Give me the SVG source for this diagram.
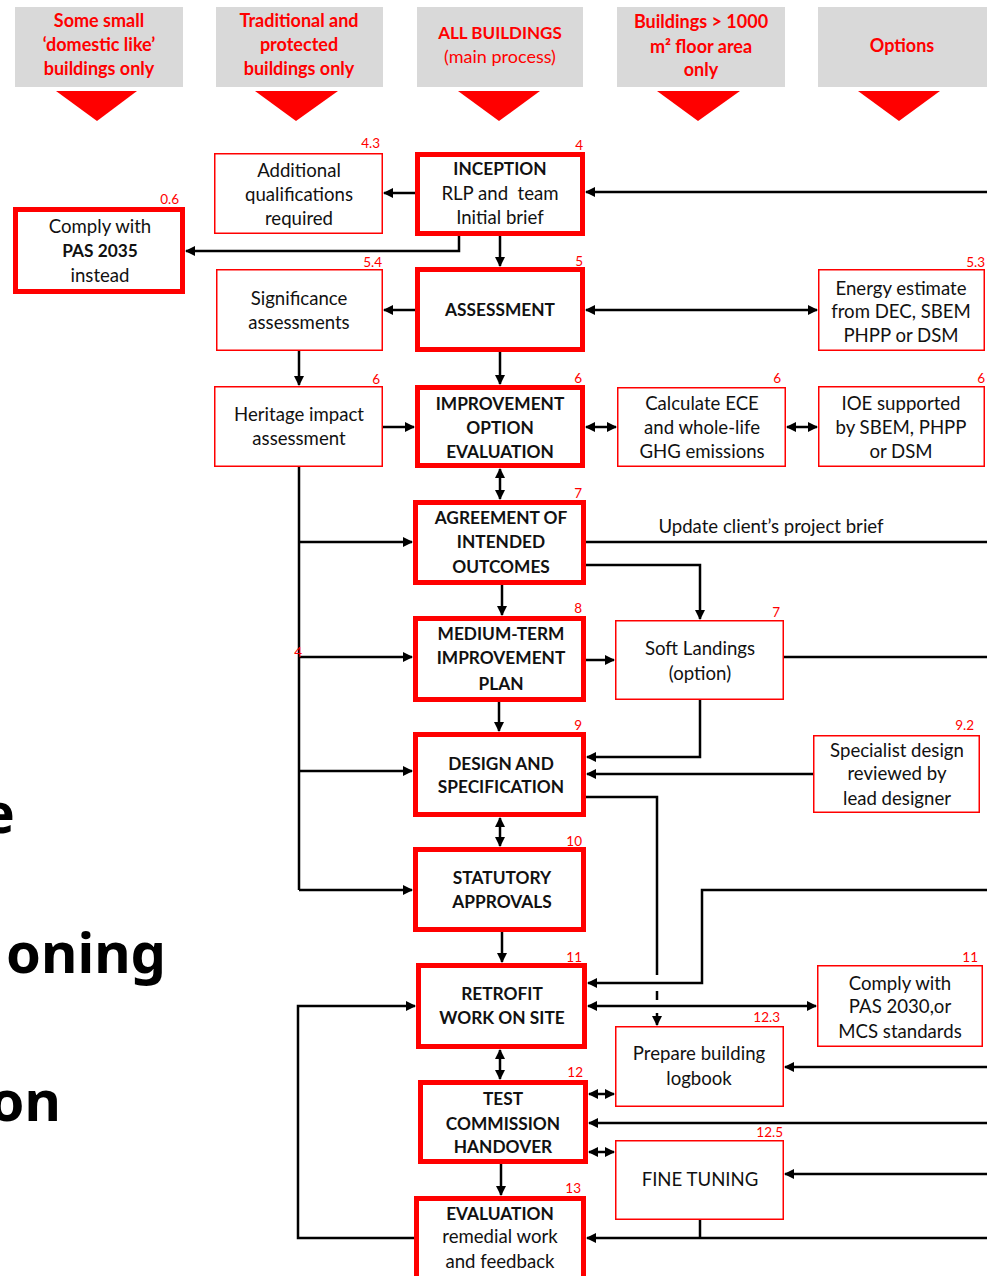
<svg xmlns="http://www.w3.org/2000/svg" width="987" height="1276" viewBox="0 0 987 1276">
<style>
.hdr{fill:#d9d9d9}
.tri{fill:#ff0000}
.ht{font-family:Lato,"Liberation Sans",sans-serif;font-weight:bold;font-size:18px;fill:#ff0000;text-anchor:middle}
.mb{fill:#fff;stroke:#ff0000;stroke-width:5}
.sb{fill:#fff;stroke:#ff0000;stroke-width:1.5}
.bt{font-family:Lato,"Liberation Sans",sans-serif;font-weight:bold;font-size:17.3px;fill:#111;text-anchor:middle}
.rt{font-family:Lato,"Liberation Sans",sans-serif;font-size:18.6px;fill:#111;text-anchor:middle}
.num{font-family:Lato,"Liberation Sans",sans-serif;font-size:13.5px;fill:#ff0000;text-anchor:end}
.big{font-family:"Noto Sans",sans-serif;font-weight:bold;font-size:56px;fill:#000;text-anchor:end}
.c{fill:none;stroke:#000;stroke-width:2.5}
.ca{fill:none;stroke:#000;stroke-width:2.5;marker-end:url(#ah)}
.cd{fill:none;stroke:#000;stroke-width:2.5;marker-end:url(#ah);marker-start:url(#ah)}
</style>
<defs>
<marker id="ah" markerUnits="userSpaceOnUse" markerWidth="10" markerHeight="10" refX="9" refY="5" orient="auto-start-reverse" viewBox="0 0 10 10">
<path d="M0,0 L10,5 L0,10 z" fill="#000"/>
</marker>
</defs>
<rect width="987" height="1276" fill="#fff"/>

<g id="headers">
<rect class="hdr" x="15" y="7" width="168" height="80"/>
<polygon class="tri" points="56,91 137,91 97,121"/>
<text class="ht" x="99" y="27">Some small</text>
<text class="ht" x="99" y="51">‘domestic like’</text>
<text class="ht" x="99" y="75">buildings only</text>
<rect class="hdr" x="216" y="7" width="167" height="80"/>
<polygon class="tri" points="255,91 338,91 296,121"/>
<text class="ht" x="299" y="27">Traditional and</text>
<text class="ht" x="299" y="51">protected</text>
<text class="ht" x="299" y="75">buildings only</text>
<rect class="hdr" x="417" y="7" width="166" height="80"/>
<polygon class="tri" points="458,91 540,91 499,121"/>
<text class="ht" x="500" y="39" style="font-size:17px">ALL BUILDINGS</text>
<text class="ht" x="500" y="63" style="font-weight:normal">(main process)</text>
<rect class="hdr" x="617" y="7" width="168" height="80"/>
<polygon class="tri" points="657,91 740,91 698,121"/>
<text class="ht" x="701" y="28">Buildings &gt; 1000</text>
<text class="ht" x="701" y="53">m² floor area</text>
<text class="ht" x="701" y="76">only</text>
<rect class="hdr" x="818" y="7" width="169" height="80"/>
<polygon class="tri" points="858,91 940,91 899,121"/>
<text class="ht" x="902" y="52">Options</text>
</g>

<g id="bigtext">
<text class="big" x="15" y="833">e</text>
<text class="big" x="166" y="973">oning</text>
<text class="big" x="61" y="1121">on</text>
</g>

<g id="connectors">
<path class="ca" d="M987,192 H586"/>
<path class="ca" d="M415,193 H384"/>
<path class="ca" d="M459,236 V251 H186"/>
<path class="ca" d="M500,236 V266"/>
<path class="ca" d="M415,310 H384"/>
<path class="cd" d="M586,310 H817"/>
<path class="ca" d="M500,352 V384"/>
<path class="ca" d="M299,351 V385"/>
<path class="ca" d="M383,427 H414"/>
<path class="cd" d="M586,427 H616"/>
<path class="cd" d="M787,427 H817"/>
<path class="cd" d="M500,469 V499"/>
<path class="c" d="M299,467 V890"/>
<path class="ca" d="M299,542 H412"/>
<path class="ca" d="M299,657 H412"/>
<path class="ca" d="M299,771 H412"/>
<path class="ca" d="M299,890 H412"/>
<path class="c" d="M586,542 H987"/>
<path class="ca" d="M586,565 H700 V619"/>
<path class="ca" d="M502,585 V615"/>
<path class="ca" d="M586,660 H614"/>
<path class="c" d="M784,657 H987"/>
<path class="ca" d="M700,700 V757 H587"/>
<path class="ca" d="M499,702 V731"/>
<path class="ca" d="M813,774 H587"/>
<path class="c" d="M586,797 H657 V975"/>
<path class="c" d="M657,991 V1000"/>
<path class="ca" d="M657,1013 V1025"/>
<path class="cd" d="M500,818 V846"/>
<path class="ca" d="M502,932 V962"/>
<path class="ca" d="M987,890 H702 V983 H588"/>
<path class="cd" d="M588,1006 H816"/>
<path class="cd" d="M500,1050 V1079"/>
<path class="cd" d="M589,1094 H614"/>
<path class="ca" d="M987,1067 H785"/>
<path class="ca" d="M987,1123 H589"/>
<path class="cd" d="M589,1152 H614"/>
<path class="ca" d="M987,1174 H785"/>
<path class="ca" d="M987,1238 H587"/>
<path class="c" d="M700,1220 V1238"/>
<path class="ca" d="M501,1164 V1195"/>
<path class="ca" d="M414,1238 H298 V1006 H415"/>
</g>

<g id="inception">
<rect class="mb" x="417.5" y="154.5" width="165" height="79"/>
<text class="num" x="583" y="150">4</text>
<text class="bt" x="500" y="175">INCEPTION</text>
<text class="rt" x="500" y="200" xml:space="preserve">RLP and  team</text>
<text class="rt" x="500" y="224">Initial brief</text>
</g>
<g id="assessment">
<rect class="mb" x="417.5" y="269.5" width="165" height="80"/>
<text class="num" x="583" y="266">5</text>
<text class="bt" x="500" y="316">ASSESSMENT</text>
</g>
<g id="improvement">
<rect class="mb" x="417.5" y="387.5" width="165" height="78"/>
<text class="num" x="582" y="383">6</text>
<text class="bt" x="500" y="410">IMPROVEMENT</text>
<text class="bt" x="500" y="434">OPTION</text>
<text class="bt" x="500" y="458">EVALUATION</text>
</g>
<g id="agreement">
<rect class="mb" x="415.5" y="502.5" width="168" height="80"/>
<text class="num" x="582" y="498">7</text>
<text class="bt" x="501" y="524">AGREEMENT OF</text>
<text class="bt" x="501" y="548">INTENDED</text>
<text class="bt" x="501" y="573">OUTCOMES</text>
</g>
<g id="medium">
<rect class="mb" x="415.5" y="618.5" width="168" height="81"/>
<text class="num" x="582" y="613">8</text>
<text class="bt" x="501" y="640">MEDIUM-TERM</text>
<text class="bt" x="501" y="664">IMPROVEMENT</text>
<text class="bt" x="501" y="690">PLAN</text>
</g>
<g id="design">
<rect class="mb" x="415.5" y="734.5" width="168" height="80"/>
<text class="num" x="582" y="730">9</text>
<text class="bt" x="501" y="770">DESIGN AND</text>
<text class="bt" x="501" y="793">SPECIFICATION</text>
</g>
<g id="statutory">
<rect class="mb" x="415.5" y="849.5" width="168" height="80"/>
<text class="num" x="582" y="846">10</text>
<text class="bt" x="502" y="884">STATUTORY</text>
<text class="bt" x="502" y="908">APPROVALS</text>
</g>
<g id="retrofit">
<rect class="mb" x="418.5" y="965.5" width="166" height="81"/>
<text class="num" x="582" y="962">11</text>
<text class="bt" x="502" y="1000">RETROFIT</text>
<text class="bt" x="502" y="1024">WORK ON SITE</text>
</g>
<g id="test">
<rect class="mb" x="420.5" y="1082.5" width="165" height="79"/>
<text class="num" x="583" y="1077">12</text>
<text class="bt" x="503" y="1105">TEST</text>
<text class="bt" x="503" y="1130">COMMISSION</text>
<text class="bt" x="503" y="1153">HANDOVER</text>
</g>
<g id="evaluation">
<rect class="mb" x="416.5" y="1198.5" width="167" height="90"/>
<text class="num" x="581" y="1193">13</text>
<text class="bt" x="500" y="1220">EVALUATION</text>
<text class="rt" x="500" y="1243">remedial work</text>
<text class="rt" x="500" y="1268">and feedback</text>
</g>

<g id="additional">
<rect class="sb" x="214.75" y="153.75" width="167.5" height="79.5"/>
<text class="num" x="380" y="148">4.3</text>
<text class="rt" x="299" y="177">Additional</text>
<text class="rt" x="299" y="201">qualifications</text>
<text class="rt" x="299" y="225">required</text>
</g>
<g id="pas2035">
<rect class="mb" x="15.5" y="209.5" width="167" height="82"/>
<text class="num" x="179" y="204">0.6</text>
<text class="rt" x="100" y="233">Comply with</text>
<text class="bt" x="100" y="257">PAS 2035</text>
<text class="rt" x="100" y="282">instead</text>
</g>
<g id="significance">
<rect class="sb" x="216.75" y="269.75" width="165.5" height="80.5"/>
<text class="num" x="382" y="267">5.4</text>
<text class="rt" x="299" y="305">Significance</text>
<text class="rt" x="299" y="329">assessments</text>
</g>
<g id="heritage">
<rect class="sb" x="214.75" y="386.75" width="167.5" height="79.5"/>
<text class="num" x="380" y="384">6</text>
<text class="rt" x="299" y="421">Heritage impact</text>
<text class="rt" x="299" y="445">assessment</text>
</g>
<g id="energy">
<rect class="sb" x="818.75" y="269.75" width="165.5" height="80.5"/>
<text class="num" x="985" y="267">5.3</text>
<text class="rt" x="901" y="295">Energy estimate</text>
<text class="rt" x="901" y="318">from DEC, SBEM</text>
<text class="rt" x="901" y="342">PHPP or DSM</text>
</g>
<g id="ece">
<rect class="sb" x="617.75" y="387.75" width="167.5" height="78.5"/>
<text class="num" x="781" y="383">6</text>
<text class="rt" x="702" y="410">Calculate ECE</text>
<text class="rt" x="702" y="434">and whole-life</text>
<text class="rt" x="702" y="458">GHG emissions</text>
</g>
<g id="ioe">
<rect class="sb" x="818.75" y="386.75" width="165.5" height="79.5"/>
<text class="num" x="985" y="383">6</text>
<text class="rt" x="901" y="410">IOE supported</text>
<text class="rt" x="901" y="434">by SBEM, PHPP</text>
<text class="rt" x="901" y="458">or DSM</text>
</g>
<g id="update-label">
<text class="rt" x="771" y="533">Update client’s project brief</text>
</g>
<g id="softlandings">
<rect class="sb" x="615.75" y="620.75" width="167.5" height="78.5"/>
<text class="num" x="780" y="617">7</text>
<text class="rt" x="700" y="655">Soft Landings</text>
<text class="rt" x="700" y="680">(option)</text>
</g>
<g id="stray4">
<text class="num" x="302" y="657">4</text>
</g>
<g id="specialist">
<rect class="sb" x="813.75" y="735.75" width="165.5" height="76.5"/>
<text class="num" x="974" y="730">9.2</text>
<text class="rt" x="897" y="757">Specialist design</text>
<text class="rt" x="897" y="780">reviewed by</text>
<text class="rt" x="897" y="805">lead designer</text>
</g>
<g id="pas2030">
<rect class="sb" x="817.75" y="965.75" width="164.5" height="80.5"/>
<text class="num" x="978" y="962">11</text>
<text class="rt" x="900" y="990">Comply with</text>
<text class="rt" x="900" y="1013">PAS 2030,or</text>
<text class="rt" x="900" y="1038">MCS standards</text>
</g>
<g id="logbook">
<rect class="sb" x="615.75" y="1026.75" width="167.5" height="79.5"/>
<text class="num" x="780" y="1022">12.3</text>
<text class="rt" x="699" y="1060">Prepare building</text>
<text class="rt" x="699" y="1085">logbook</text>
</g>
<g id="finetuning">
<rect class="sb" x="615.75" y="1140.75" width="167.5" height="78.5"/>
<text class="num" x="783" y="1137">12.5</text>
<text class="rt" x="700" y="1186">FINE TUNING</text>
</g>
</svg>
